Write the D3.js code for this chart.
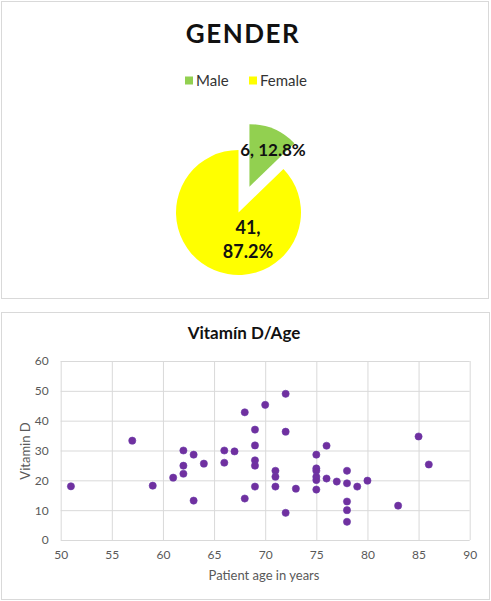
<!DOCTYPE html>
<html>
<head>
<meta charset="utf-8">
<script src="https://cdn.jsdelivr.net/npm/d3@7"></script>
<style>
  body { margin: 0; background: #fff; }
  svg { display: block; font-family: Lato, "Open Sans", sans-serif; }
</style>
</head>
<body>
<svg id="chart" width="491" height="601"></svg>
<script>
// gender pie
const genders = ["Male", "Female"];
const genderCounts = [6, 41];
const genderColors = ["#92d050", "#ffff00"];

// scatter: age vs vitamin D
const ages = [51, 57, 59, 61, 62, 62, 62, 63, 63, 64, 66, 66, 67, 68, 68,
    69, 69, 69, 69, 69, 70, 71, 71, 71, 72, 72, 72, 73,
    75, 75, 75, 75, 75, 75, 76, 76, 77, 78, 78, 78, 78, 78, 79, 80, 83, 85, 86];
const vitaminD = [18, 33.3, 18.2, 20.9, 30, 24.9, 22.2, 28.6, 13.2, 25.6, 30, 25.9, 29.7, 42.8, 13.9,
    37, 31.7, 26.7, 24.9, 17.9, 45.3, 23.2, 21.2, 17.9, 49, 36.3, 9.1, 17.2,
    28.6, 24, 23.2, 21.2, 20.1, 16.9, 31.6, 20.6, 19.6, 23.2, 19, 12.9, 10, 6.1, 17.9, 19.9, 11.5, 34.7, 25.3];
const xTicks = [50, 55, 60, 65, 70, 75, 80, 85, 90];
const yTicks = [0, 10, 20, 30, 40, 50, 60];

const svg = d3.select("#chart");
const grey = "#595959";

// panel frames
svg.append("rect").attr("x", 1.5).attr("y", 1.5).attr("width", 487).attr("height", 297)
    .attr("fill", "#fff").attr("stroke", "#d9d9d9");
svg.append("rect").attr("x", 1.5).attr("y", 312.5).attr("width", 488).attr("height", 287)
    .attr("fill", "#fff").attr("stroke", "#d9d9d9");

// ---------- pie ----------
svg.append("text")
    .attr("x", 243).attr("y", 43)
    .attr("text-anchor", "middle")
    .style("font-size", "26px").style("font-weight", "bold")
    .style("letter-spacing", "1.5px")
    .attr("fill", "#111")
    .text("GENDER");

const legend = svg.append("g").attr("transform", "translate(0,81)");
const legendX = [185, 249];
genders.forEach((g, i) => {
    legend.append("rect").attr("x", legendX[i]).attr("y", -4.5).attr("width", 8).attr("height", 8)
        .attr("fill", genderColors[i]);
    legend.append("text").attr("x", legendX[i] + 11).attr("y", 5)
        .style("font-size", "15px").attr("fill", "#333").text(g);
});

const total = d3.sum(genderCounts);
const pieCx = 238.5, pieCy = 212.5, radius = 62.5;
const pie = d3.pie().sort(null).value(d => d)(genderCounts);
const arc = d3.arc().innerRadius(0).outerRadius(radius);
const explode = [28, 0];

const pieG = svg.append("g").attr("transform", `translate(${pieCx},${pieCy})`);
pie.forEach((p, i) => {
    const mid = (p.startAngle + p.endAngle) / 2;
    const dx = explode[i] * Math.sin(mid), dy = -explode[i] * Math.cos(mid);
    pieG.append("path")
        .attr("transform", `translate(${dx},${dy})`)
        .attr("d", arc(p))
        .attr("fill", genderColors[i]);
});

const pct = v => (v / total * 100).toFixed(1) + "%";
// male label sits near the slice's outer edge, female label wraps onto two lines
pieG.append("text")
    .attr("x", 34.5).attr("y", -56.5)
    .attr("text-anchor", "middle")
    .style("font-size", "17px").style("font-weight", "bold").attr("fill", "#111")
    .text(`${genderCounts[0]}, ${pct(genderCounts[0])}`);
const femLabel = pieG.append("text")
    .attr("text-anchor", "middle")
    .style("font-size", "18px").style("font-weight", "bold").attr("fill", "#111");
femLabel.append("tspan").attr("x", 9.5).attr("y", 21).text(`${genderCounts[1]},`);
femLabel.append("tspan").attr("x", 9.5).attr("y", 45).text(pct(genderCounts[1]));

// ---------- scatter ----------
const x = d3.scaleLinear().domain([50, 90]).range([60.7, 469.7]);
const y = d3.scaleLinear().domain([0, 60]).range([540, 361]);

svg.append("text")
    .attr("x", 244).attr("y", 339)
    .attr("text-anchor", "middle")
    .style("font-size", "17px").style("font-weight", "bold").attr("fill", "#111")
    .text("Vitamín D/Age");

const xAxis = svg.append("g")
    .attr("transform", "translate(0,540)")
    .call(d3.axisBottom(x).tickValues(xTicks).tickSize(-(540 - 361)).tickPadding(10));
const yAxis = svg.append("g")
    .attr("transform", "translate(60.7,0)")
    .call(d3.axisLeft(y).tickValues(yTicks).tickSize(-(469.7 - 60.7)).tickPadding(12));

[xAxis, yAxis].forEach(ax => {
    ax.select(".domain").remove();
    ax.selectAll("line").attr("stroke", "#d9d9d9");
    ax.selectAll("text").attr("fill", grey).style("font-size", "12px")
        .style("font-family", "Lato, 'Open Sans', sans-serif");
});

svg.append("text")
    .attr("x", 264).attr("y", 580)
    .attr("text-anchor", "middle")
    .style("font-size", "13px").attr("fill", grey)
    .text("Patient age in years");

svg.append("text")
    .attr("transform", "translate(30,451) rotate(-90)")
    .attr("text-anchor", "middle")
    .style("font-size", "13px").attr("fill", grey)
    .text("Vitamin D");

svg.append("g")
    .selectAll("circle")
    .data(ages)
    .join("circle")
    .attr("cx", d => x(d))
    .attr("cy", (d, i) => y(vitaminD[i]))
    .attr("r", 3.6)
    .attr("fill", "#7030a0")
    .attr("stroke", "#6a3aa8")
    .attr("stroke-width", 0.6);
</script>
</body>
</html>
